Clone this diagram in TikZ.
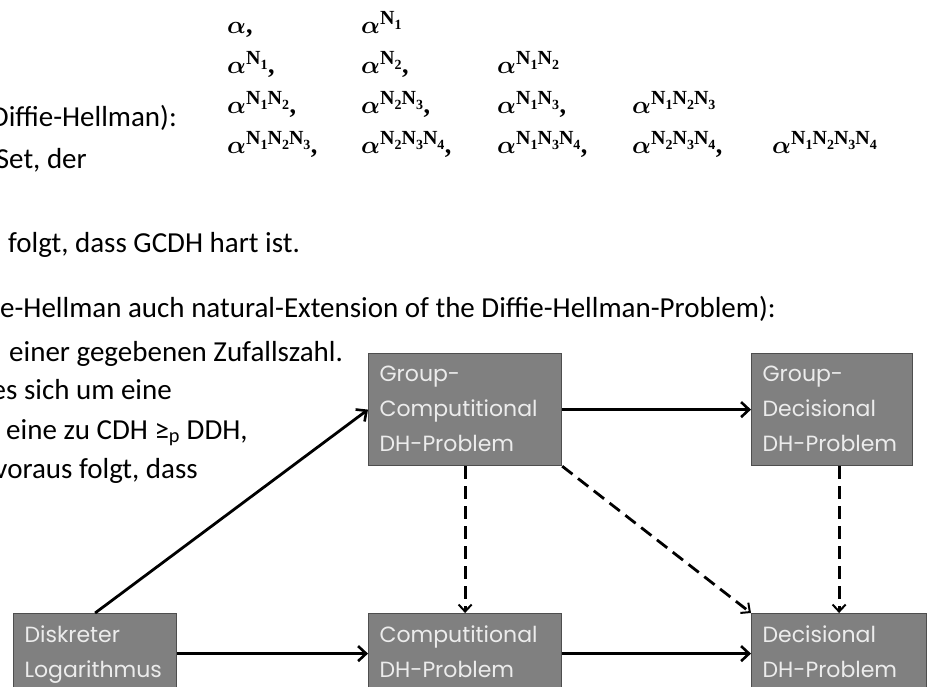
\documentclass[tikz,border=0pt]{standalone}
\usepackage{fontspec}
\setmainfont{Carlito}
\newfontfamily\boxfont{Poppins}
\newfontfamily\serifb{Liberation Serif}
\usetikzlibrary{arrows.meta}
\definecolor{boxfill}{RGB}{128,128,128}
\definecolor{boxline}{RGB}{78,78,78}
\definecolor{boxtext}{RGB}{236,236,236}
\newcommand\Nx[1]{N\raisebox{-0.22em}{\fontsize{14}{14}\selectfont #1}}
\newcommand\ap[1]{$\alpha^{\hbox{\serifb\bfseries\fontsize{20}{20}\selectfont #1}}$}
\tikzset{
  body/.style={inner sep=0pt, font=\fontsize{29}{35}\selectfont},
  alp/.style={inner sep=0pt, anchor=base west, font=\serifb\bfseries\fontsize{26}{32}\selectfont\boldmath},
  dhbox/.style={draw=boxline, fill=boxfill, line width=1.2pt, anchor=north west,
    inner xsep=11pt, inner ysep=0pt, text=boxtext, font=\boxfont\fontsize{22}{35}\selectfont},
  arr/.style={line width=2.8pt, -{Straight Barb[length=8pt,width=15pt,line width=2.6pt]}},
  darr/.style={line width=2.8pt, dash pattern=on 13pt off 7pt,
    -{Straight Barb[length=7pt,width=13pt,line width=2pt]}},
}
\newcommand\dhtext[3]{\parbox[t][#1][t]{#2}{\vspace*{12pt}#3}}
\begin{document}
\begin{tikzpicture}[x=1pt,y=-1pt]
\clip (0,0) rectangle (928,687);
\fill[white] (0,0) rectangle (928,687);

% body text
\node[body, anchor=base east] (t1) at (177,127) {Diffie-Hellman):};
\node[body, anchor=base east] (t2) at (87,168) {Set, der};
\node[body, anchor=base west] (t3) at (8,252) {folgt, dass GCDH hart ist.};
\node[body, anchor=base east] (t4) at (776,317) {e-Hellman auch natural-Extension of the Diffie-Hellman-Problem):};
\node[body, anchor=base west] (t5) at (9,361) {einer gegebenen Zufallszahl.};
\node[body, anchor=base east] (t6) at (172,399) {es sich um eine};
\node[body, anchor=base west] (t7) at (6,439) {eine zu CDH ≥\textsubscript{p} DDH,};
\node[body, anchor=base east] (t8) at (198,478) {voraus folgt, dass};

% alpha table
\node[alp] (a11) at (227,34) {$\alpha$,};
\node[alp] (a12) at (361,34) {\ap{\Nx1}};
\node[alp] (a21) at (227,74) {\ap{\Nx1},};
\node[alp] (a22) at (361,74) {\ap{\Nx2},};
\node[alp] (a23) at (497,74) {\ap{\Nx1\Nx2}};
\node[alp] (a31) at (227,114) {\ap{\Nx1\Nx2},};
\node[alp] (a32) at (361,114) {\ap{\Nx2\Nx3},};
\node[alp] (a33) at (497,114) {\ap{\Nx1\Nx3},};
\node[alp] (a34) at (632,114) {\ap{\Nx1\Nx2\Nx3}};
\node[alp] (a41) at (227,154) {\ap{\Nx1\Nx2\Nx3},};
\node[alp] (a42) at (361,154) {\ap{\Nx2\Nx3\Nx4},};
\node[alp] (a43) at (497,154) {\ap{\Nx1\Nx3\Nx4},};
\node[alp] (a44) at (632,154) {\ap{\Nx2\Nx3\Nx4},};
\node[alp] (a45) at (772,154) {\ap{\Nx1\Nx2\Nx3\Nx4}};

% boxes
\node[dhbox] (GC) at (368,353) {\dhtext{112pt}{171pt}{Group-\\Computitional\\DH-Problem}};
\node[dhbox] (GD) at (751,353) {\dhtext{112pt}{139pt}{Group-\\Decisional\\DH-Problem}};
\node[dhbox] (DL) at (13,613) {\dhtext{80pt}{141pt}{Diskreter\\Logarithmus}};
\node[dhbox] (CP) at (368,613) {\dhtext{80pt}{171pt}{Computitional\\DH-Problem}};
\node[dhbox] (DD) at (751,613) {\dhtext{80pt}{153pt}{Decisional\\DH-Problem}};

% connectors
\draw[arr] (DL.north) -- (GC.west);
\draw[arr] (GC.east) -- (GD.west);
\draw[arr] (DL.east) -- (CP.west);
\draw[arr] (CP.east) -- (DD.west);
\draw[darr] (GC.south) -- (CP.north);
\draw[darr] (GC.south east) -- (DD.north west);
\draw[darr] (DD.north |- GD.south) -- (DD.north);
\end{tikzpicture}
\end{document}
